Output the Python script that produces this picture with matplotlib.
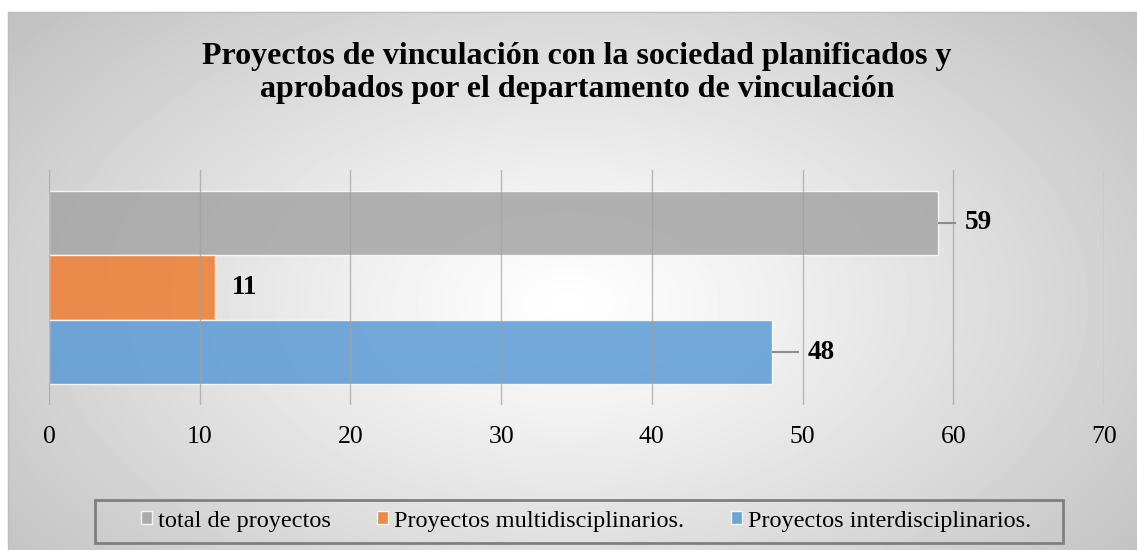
import matplotlib.pyplot as plt
from matplotlib.patches import Rectangle
import numpy as np

# data
series_names = ["total de proyectos", "Proyectos multidisciplinarios.", "Proyectos interdisciplinarios."]
series_values = [59, 11, 48]
series_colors = ["#A5A5A5", "#ED7D31", "#5B9BD5"]
title = "Proyectos de vinculación con la sociedad planificados y\naprobados por el departamento de vinculación"
x_ticks = [0, 10, 20, 30, 40, 50, 60, 70]

plt.rcParams['font.family'] = ['Liberation Serif', 'DejaVu Serif']

W, H = 1137, 550
fig = plt.figure(figsize=(W / 100, H / 100), dpi=100)

# chart area with radial gradient background
bg = fig.add_axes([8 / W, 0, 1 - 8 / W, 1 - 12 / H])
yy, xx = np.mgrid[0:538, 0:1129]
cx, cy = 560, 290
r = np.sqrt(((xx - cx) / 700.0) ** 2 + ((yy - cy) / 420.0) ** 2)
r = np.clip(r / r.max(), 0, 1)
shade = 1 - 0.25 * r ** 1.1
bg.imshow(shade, cmap="gray", vmin=0, vmax=1, aspect="auto", interpolation="bilinear")
bg.set_xticks([])
bg.set_yticks([])
for s in bg.spines.values():
    s.set_color("#bdbdbd")
    s.set_linewidth(1)
bg.spines['right'].set_visible(False)
bg.spines['bottom'].set_visible(False)

fig.text(577 / W, 1 - 42 / H, title, ha="center", va="top", fontsize=23,
         fontweight="bold", linespacing=1.2)

ax = fig.add_axes([49 / W, 1 - 405 / H, (1104 - 49) / W, (405 - 170) / H])
ax.patch.set_alpha(0)
positions = [2, 1, 0]
for pos, val, col, name in zip(positions, series_values, series_colors, series_names):
    ax.barh(pos, val, height=1.0, color=col, alpha=0.85, edgecolor="white",
            linewidth=1.0, label=name, zorder=2)

ax.set_xlim(0, 70)
ax.set_ylim(-0.5 - 0.32, 2.5 + 0.32)
ax.set_xticks(x_ticks)
ax.set_yticks([])
for xv in x_ticks:
    ax.axvline(xv, color="#a0a0a0", linewidth=1.0, alpha=0.7, zorder=3)
ax.tick_params(axis="x", length=0, labelsize=18.5, pad=15)
for s in ax.spines.values():
    s.set_visible(False)

# data labels (leader lines for 59 and 48)
px_per_unit = (1104 - 49) / 70
label_style = [(True, 18, 27), (False, 0, 17), (True, 27, 35)]
for pos, val, (leader, line_px, lab_px) in zip(positions, series_values, label_style):
    if leader:
        ax.plot([val, val + line_px / px_per_unit], [pos, pos], color="#8c8c8c",
                linewidth=1.5, zorder=4, solid_capstyle="butt")
    ax.text(val + lab_px / px_per_unit, pos, str(val), ha="left", va="center",
            fontsize=19.5, fontweight="bold", zorder=5)

# legend with its own box
fig.patches.append(Rectangle((95 / W, 1 - 543 / H), (1063 - 95) / W, 43 / H,
                             transform=fig.transFigure, facecolor="none",
                             edgecolor="#7f7f7f", linewidth=2))
handles, labels = ax.get_legend_handles_labels()
leg = fig.legend(handles, labels, loc="center", bbox_to_anchor=(586 / W, 1 - 521 / H),
                 ncol=3, fontsize=17.5, frameon=False,
                 handlelength=0.45, handleheight=0.45, handletextpad=0.25,
                 columnspacing=1.9, borderpad=0)

fig.savefig("out.png", dpi=100)
